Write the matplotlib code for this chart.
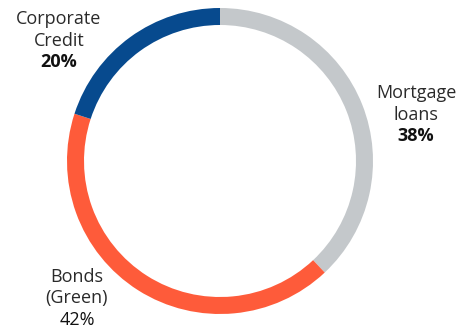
import matplotlib
matplotlib.use("Agg")
import matplotlib.pyplot as plt

categories = ["Mortgage\nloans", "Bonds\n(Green)", "Corporate\nCredit"]
values = [38, 42, 20]
colors = ["#c4c8cb", "#fe5b3a", "#074a8e"]
bold_pct = [True, False, True]

W, H = 466, 329
fig = plt.figure(figsize=(W / 100, H / 100), dpi=100)
ax = fig.add_axes([0, 0, 1, 1])
cx, cy, R = 220, H - 161, 153
ax.pie(values, colors=colors, startangle=90, counterclock=False,
       radius=R, center=(cx, cy),
       wedgeprops=dict(width=17, linewidth=0))
ax.set_xlim(0, W)
ax.set_ylim(0, H)
ax.set_aspect("equal")
ax.axis("off")

# label anchors (x center, y of first line, in pixels from top)
anchors = [(416, 93), (77, 277), (59, 19)]
font = "Open Sans"
fs = 13
lh = 21.5
for cat, v, b, (x, y) in zip(categories, values, bold_pct, anchors):
    lines = cat.split("\n")
    for i, ln in enumerate(lines):
        ax.text(x, H - (y + i * lh), ln, ha="center", va="center",
                fontsize=fs, family=font, color="#2a2a2a")
    ax.text(x, H - (y + len(lines) * lh), f"{v}%", ha="center", va="center",
            fontsize=fs, family=font, color="#111111",
            fontweight="bold" if b else "normal")

fig.savefig("out.png", dpi=100)
